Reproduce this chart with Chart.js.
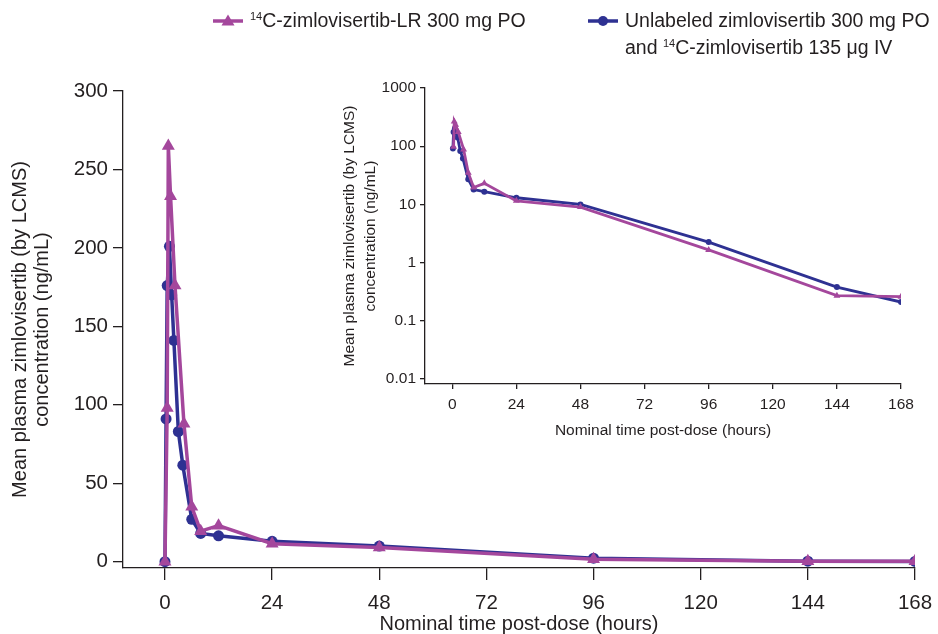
<!DOCTYPE html>
<html>
<head>
<meta charset="utf-8">
<script src="https://cdn.jsdelivr.net/npm/chart.js@4.4.1/dist/chart.umd.min.js"></script>
<style>
  body { margin: 0; background: #fff; }
  #wrap { position: relative; width: 938px; height: 634px; font-family: "Liberation Sans", Arial, sans-serif; color: #231f20; }
  #mainChart { position: absolute; left: 0; top: 0; }
  #insetChart { position: absolute; left: 330px; top: 70px; }
  .leg { position: absolute; font-size: 19.5px; line-height: 27px; white-space: nowrap; }
  .leg sup { font-size: 11px; line-height: 0; vertical-align: 7px; }
  .mark { position: absolute; }
</style>
</head>
<body>
<div id="wrap">
  <canvas id="mainChart" width="938" height="634"></canvas>
  <canvas id="insetChart" width="590" height="375"></canvas>

  <svg class="mark" style="left:213px;top:11px" width="30" height="20">
    <line x1="0" y1="10" x2="30" y2="10" stroke="#a4479c" stroke-width="3.5"/>
    <polygon points="15,3.5 21.5,14.5 8.5,14.5" fill="#a4479c"/>
  </svg>
  <div class="leg" style="left:250px;top:7px"><sup>14</sup>C-zimlovisertib-LR 300 mg PO</div>

  <svg class="mark" style="left:588px;top:11px" width="30" height="20">
    <line x1="0" y1="10" x2="30" y2="10" stroke="#2e3192" stroke-width="3.5"/>
    <circle cx="15" cy="10" r="5" fill="#2e3192"/>
  </svg>
  <div class="leg" style="left:625px;top:7px">Unlabeled zimlovisertib 300 mg PO<br>and <sup>14</sup>C-zimlovisertib 135 &mu;g IV</div>
</div>

<script>
// nominal sampling times (h) and mean concentrations (ng/mL)
const lrTimes = [0, 0.5, 0.75, 1.25, 2.25, 4.25, 6, 8, 12, 24, 48, 96, 144, 168];
const lrConc  = [0, 98, 265, 233, 176, 88, 35, 19.5, 23, 11.5, 9, 1.65, 0.27, 0.26];
const ivTimes = [0, 0.25, 0.5, 1, 1.5, 2, 3, 4, 6, 8, 12, 24, 48, 96, 144, 168];
const ivConc  = [0, 91, 176, 201, 170, 141, 83, 61.5, 27, 18, 16.5, 13, 10, 2.25, 0.38, 0.21];

const xTicks   = [0, 24, 48, 72, 96, 120, 144, 168];
const yTicks   = [0, 50, 100, 150, 200, 250, 300];
const logTicks = [0.01, 0.1, 1, 10, 100, 1000];

const COLORS = {
  pink: "#a4479c",
  blue: "#2e3192",
  ink: "#231f20"
};
const FONT = "'Liberation Sans', Arial, sans-serif";
const Y_TITLE = ["Mean plasma zimlovisertib (by LCMS)", "concentration (ng/mL)"];
const X_TITLE = "Nominal time post-dose (hours)";

function points(times, conc, logScale) {
  return times.map((t, i) => ({ x: t, y: logScale && conc[i] <= 0 ? null : conc[i] }));
}

function makeDatasets(logScale, lw, rTri, rDot) {
  return [{
    label: "14C-zimlovisertib-LR 300 mg PO",
    data: points(lrTimes, lrConc, logScale),
    borderColor: COLORS.pink,
    backgroundColor: COLORS.pink,
    borderWidth: lw,
    pointStyle: "triangle",
    pointRadius: rTri,
    pointBorderWidth: 0,
    tension: 0
  }, {
    label: "Unlabeled zimlovisertib 300 mg PO and 14C-zimlovisertib 135 µg IV",
    data: points(ivTimes, ivConc, logScale),
    borderColor: COLORS.blue,
    backgroundColor: COLORS.blue,
    borderWidth: lw,
    pointStyle: "circle",
    pointRadius: rDot,
    pointBorderWidth: 0,
    tension: 0
  }];
}

function axisStyle(tickLen, fontSize, pad) {
  return {
    grid: { drawOnChartArea: false, drawTicks: true, tickLength: tickLen, color: COLORS.ink, lineWidth: 1.3 },
    border: { display: true, color: COLORS.ink, width: 1.3 },
    ticks: { color: COLORS.ink, font: { family: FONT, size: fontSize }, padding: pad, maxRotation: 0 }
  };
}

new Chart(document.getElementById("mainChart"), {
  type: "line",
  data: { datasets: makeDatasets(false, 3.5, 7.5, 5.5) },
  options: {
    responsive: false,
    animation: false,
    layout: { padding: { top: 91, right: 23, left: 0, bottom: 0 } },
    plugins: { legend: { display: false }, tooltip: { enabled: false } },
    scales: {
      x: {
        type: "linear", min: -9.4, max: 168,
        afterBuildTicks: s => { s.ticks = xTicks.map(v => ({ value: v })); },
        afterFit: s => { s.height = 66; s.paddingLeft = 0; s.paddingRight = 0; },
        ...axisStyle(12, 20.5, 11),
        title: { display: true, text: X_TITLE, color: COLORS.ink, font: { family: FONT, size: 20 }, padding: { top: 0, bottom: -2 } }
      },
      y: {
        type: "linear", min: -4, max: 300,
        afterBuildTicks: s => { s.ticks = yTicks.map(v => ({ value: v })); },
        afterFit: s => { s.width = 123; },
        ...axisStyle(10, 20.5, 5),
        title: { display: true, text: Y_TITLE, color: COLORS.ink, font: { family: FONT, size: 20, lineHeight: 1.1 }, padding: { top: 9, bottom: 0 } }
      }
    }
  }
});

new Chart(document.getElementById("insetChart"), {
  type: "line",
  data: { datasets: makeDatasets(true, 2.8, 4, 3) },
  options: {
    responsive: false,
    animation: false,
    layout: { padding: { top: 18, right: 19, left: 0, bottom: 0 } },
    plugins: { legend: { display: false }, tooltip: { enabled: false } },
    scales: {
      x: {
        type: "linear", min: -10.2, max: 168,
        afterBuildTicks: s => { s.ticks = xTicks.map(v => ({ value: v })); },
        afterFit: s => { s.height = 61; s.paddingLeft = 0; s.paddingRight = 0; },
        ...axisStyle(5, 15.5, 6),
        title: { display: true, text: X_TITLE, color: COLORS.ink, font: { family: FONT, size: 15.5 }, padding: { top: 0, bottom: 5 } }
      },
      y: {
        type: "logarithmic", min: 0.0082, max: 1000,
        afterBuildTicks: s => { s.ticks = logTicks.map(v => ({ value: v })); },
        afterFit: s => { s.width = 95; },
        ...axisStyle(5, 15.5, 4),
        ticks: { color: COLORS.ink, font: { family: FONT, size: 15.5 }, padding: 4, callback: v => String(v) },
        title: { display: true, text: Y_TITLE, color: COLORS.ink, font: { family: FONT, size: 15.5, lineHeight: 1.3 }, padding: { top: 10, bottom: 0 } }
      }
    }
  }
});
</script>
</body>
</html>
